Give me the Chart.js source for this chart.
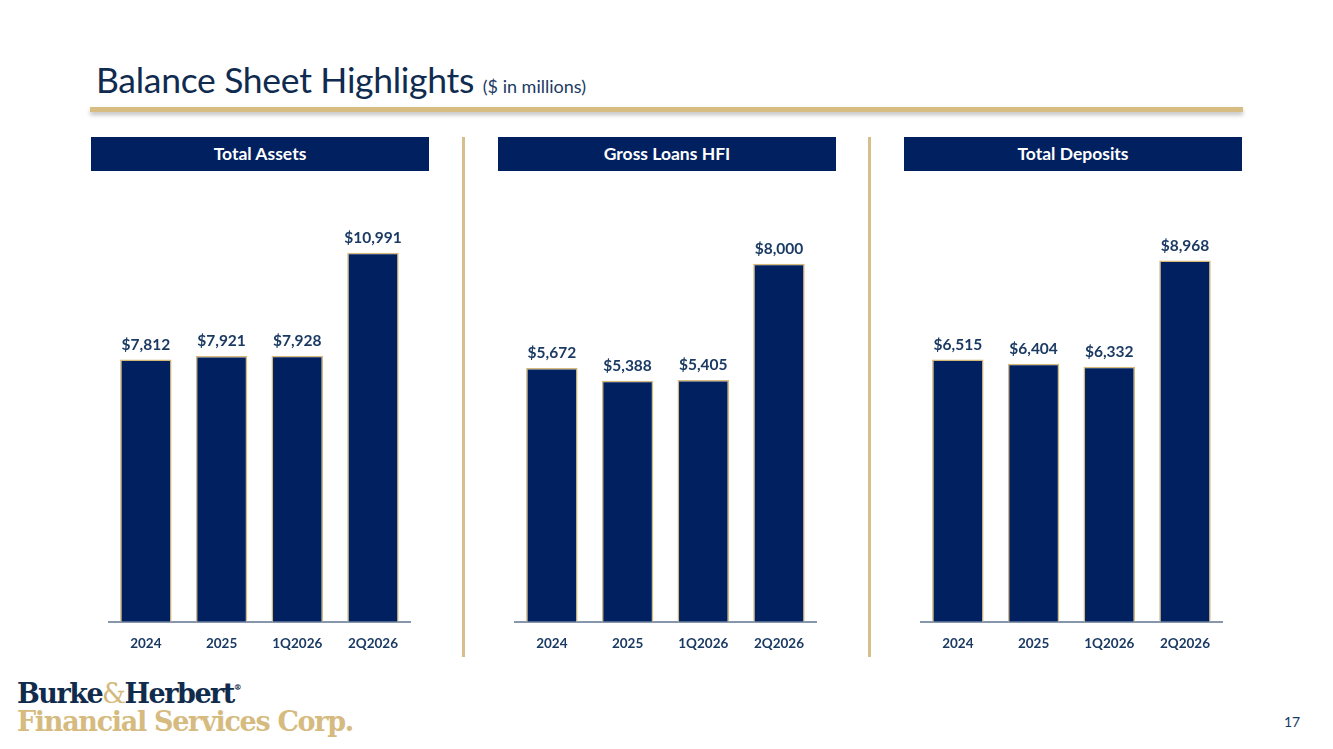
<!DOCTYPE html>
<html>
<head>
<meta charset="utf-8">
<script src="https://cdn.jsdelivr.net/npm/chart.js@4.4.1/dist/chart.umd.min.js"></script>
<style>
  html, body { margin: 0; padding: 0; background: #ffffff; }
  body { width: 1333px; height: 749px; position: relative; overflow: hidden; font-family: Lato, "Open Sans", sans-serif; }
  .title { position: absolute; left: 96px; top: 58px; font-size: 35.5px; color: #0f2b50; white-space: nowrap; letter-spacing: -0.3px; }
  .title small { font-size: 18px; color: #1b3a63; letter-spacing: 0; }
  .rule { position: absolute; left: 90px; top: 107px; width: 1153px; height: 5px; background: #d8bd82; box-shadow: 0 3px 4px rgba(0,0,0,0.25); }
  .hdr { position: absolute; top: 137px; width: 338px; height: 34px; background: #002060; color: #fff; font-weight: bold; font-size: 17.5px; text-align: center; line-height: 34px; }
  .div { position: absolute; top: 137px; width: 3px; height: 520px; background: #d6bf8a; }
  .cv { position: absolute; top: 200px; width: 304px; height: 466px; }
  .logo1 { position: absolute; left: 17px; top: 678px; font-family: "DejaVu Serif", serif; font-weight: bold; font-size: 27px; color: #102b4c; letter-spacing: -1.5px; white-space: nowrap; }
  .logo1 .amp { color: #d4b97a; font-weight: normal; }
  .logo1 sup { font-size: 8px; vertical-align: 13px; letter-spacing: 0; }
  .logo2 { position: absolute; left: 17px; top: 706px; font-family: "DejaVu Serif", serif; font-weight: bold; font-size: 27px; color: #d6bb80; letter-spacing: -1.3px; white-space: nowrap; }
  .page { position: absolute; left: 1284px; top: 713px; font-size: 14px; color: #1b3a63; }
</style>
</head>
<body>
<div class="title">Balance Sheet Highlights <small>($ in millions)</small></div>
<div class="rule"></div>

<div class="hdr" style="left:91px">Total Assets</div>
<div class="hdr" style="left:498px">Gross Loans HFI</div>
<div class="hdr" style="left:904px">Total Deposits</div>

<div class="div" style="left:462px"></div>
<div class="div" style="left:868px"></div>

<canvas id="c1" class="cv" width="304" height="466" style="left:108px"></canvas>
<canvas id="c2" class="cv" width="304" height="466" style="left:514px"></canvas>
<canvas id="c3" class="cv" width="304" height="466" style="left:920px"></canvas>

<div class="logo1">Burke<span class="amp">&amp;</span>Herbert<sup>®</sup></div>
<div class="logo2">Financial Services Corp.</div>
<div class="page">17</div>

<script>
const categories = ["2024", "2025", "1Q2026", "2Q2026"];
const totalAssets = [7812, 7921, 7928, 10991];
const grossLoans = [5672, 5388, 5405, 8000];
const totalDeposits = [6515, 6404, 6332, 8968];
const axisMax = { assets: 12000, loans: 9000, deposits: 10000 };

const NAVY = "#002060";
const GOLD = "#d4b97a";
const LABEL = "#1b3a63";

const valueLabels = {
  id: "valueLabels",
  afterDatasetsDraw(chart) {
    const ctx = chart.ctx;
    const meta = chart.getDatasetMeta(0);
    const data = chart.data.datasets[0].data;
    ctx.save();
    ctx.font = "bold 15.5px Lato, sans-serif";
    ctx.fillStyle = LABEL;
    ctx.textAlign = "center";
    ctx.textBaseline = "bottom";
    meta.data.forEach((bar, i) => {
      ctx.fillText("$" + data[i].toLocaleString("en-US"), bar.x, bar.y - 7);
    });
    ctx.restore();
  }
};

function makeChart(id, values, max) {
  new Chart(document.getElementById(id), {
    type: "bar",
    data: {
      labels: categories,
      datasets: [{
        data: values,
        backgroundColor: NAVY,
        borderColor: GOLD,
        borderWidth: 1.5,
        borderSkipped: "bottom",
        categoryPercentage: 1,
        barPercentage: 0.68
      }]
    },
    options: {
      responsive: false,
      animation: false,
      devicePixelRatio: 1,
      layout: { padding: { top: 19, bottom: 0, left: 0, right: 0 } },
      plugins: { legend: { display: false }, tooltip: { enabled: false } },
      scales: {
        x: {
          grid: { display: false, drawTicks: false, tickLength: 0 },
          border: { display: true, color: "#8596ad", width: 2 },
          ticks: { color: LABEL, font: { family: "Lato, sans-serif", weight: "bold", size: 13.5 }, padding: 14, maxRotation: 0 }
        },
        y: {
          display: false,
          min: 0,
          max: max
        }
      }
    },
    plugins: [valueLabels]
  });
}

makeChart("c1", totalAssets, axisMax.assets);
makeChart("c2", grossLoans, axisMax.loans);
makeChart("c3", totalDeposits, axisMax.deposits);
</script>
</body>
</html>
